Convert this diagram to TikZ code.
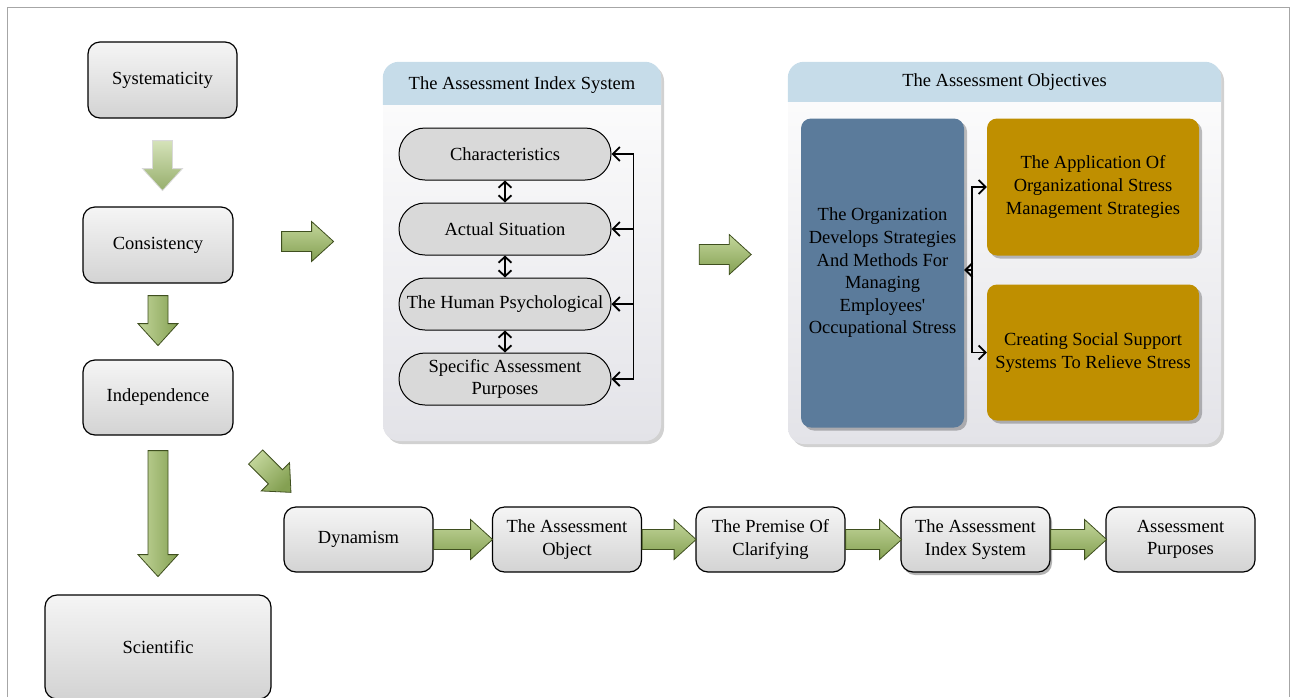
\documentclass[tikz,border=0pt]{standalone}
\usepackage{fontspec}
\setmainfont{Liberation Serif}
\usetikzlibrary{arrows.meta,calc,shadows}
\definecolor{ink}{HTML}{000000}
\definecolor{framecol}{HTML}{A6A6A6}
\definecolor{boxtop}{HTML}{F5F5F5}
\definecolor{boxbot}{HTML}{D3D3D3}
\definecolor{pillcol}{HTML}{D9D9D9}
\definecolor{headcol}{HTML}{C6DCE9}
\definecolor{paneltop}{HTML}{FEFEFE}
\definecolor{panelbot}{HTML}{E3E3E8}
\definecolor{steel}{HTML}{5B7B9B}
\definecolor{gold}{HTML}{BF8F00}
\definecolor{gLight}{HTML}{C3D69B}
\definecolor{gDark}{HTML}{84A052}
\definecolor{gEdge}{HTML}{3F4F1F}
\tikzset{pics/garrow/.style n args={2}{code={%
 \draw[#2] (0,-10) -- (#1-22,-10) -- (#1-22,-20) -- (#1,0) -- (#1-22,20) -- (#1-22,10) -- (0,10) -- cycle;}}}

\begin{document}
\begin{tikzpicture}[x=1pt,y=-1pt,>=Stealth,font=\fontsize{18.5}{22.6}\selectfont]
 \tikzstyle{box}=[rectangle,rounded corners=12pt,draw=ink,line width=1.2pt,top color=boxtop,bottom color=boxbot,minimum width=149pt,minimum height=76pt,align=center]
 \tikzstyle{rowbox}=[box,minimum height=65pt]
 \tikzstyle{pill}=[rectangle,rounded corners=26pt,draw=ink,line width=1pt,fill=pillcol,minimum width=212pt,minimum height=52pt,inner sep=2pt,align=center]
 \tikzstyle{panel}=[rectangle,rounded corners=16pt,top color=paneltop,bottom color=panelbot,drop shadow={shadow xshift=3pt,shadow yshift=-3pt,fill=black,opacity=0.18}]
 \tikzstyle{tile}=[rectangle,rounded corners=10pt,align=center,drop shadow={shadow xshift=3pt,shadow yshift=-3pt,fill=black,opacity=0.25}]
 \tikzstyle{link}=[draw=ink,line width=1.8pt,-{Straight Barb[length=7pt,width=14pt]}]
 \tikzstyle{dbl}=[draw=ink,line width=1.8pt,{Straight Barb[length=6pt,width=13pt]}-{Straight Barb[length=6pt,width=13pt]}]
 \tikzstyle{vgrad}=[draw=gEdge,line width=0.8pt,left color=gLight,right color=gDark]
 \tikzstyle{hgrad}=[draw=gEdge,line width=0.8pt,top color=gLight,bottom color=gDark]
 \tikzstyle{dgrad}=[draw=gEdge,line width=0.8pt,top color=gLight,bottom color=gDark,shading angle=45]
 \tikzstyle{fgrad}=[draw=gray!30,line width=0.8pt,top color=gLight!70!white,bottom color=gDark!85!white]
 \useasboundingbox (0,0) rectangle (1293,697);
 \draw[framecol,line width=1pt] (7,697) -- (7,7) -- (1289,7) -- (1289,697);
 % left column
 \node[box] (sys) at (162.5,80) {Systematicity};
 \node[box,minimum width=150pt] (cons) at (158,245) {Consistency};
 \node[box,minimum width=150pt,minimum height=75pt] (ind) at (158,397.5) {Independence};
 \node[box,minimum width=226pt,minimum height=104pt] (sci) at (158,647) {Scientific};
 \pic[rotate=-90] at ($(sys.south)+(0,22)$) {garrow={50}{fgrad}};
 \pic[rotate=-90] at ($(cons.south)+(0,12)$) {garrow={50}{vgrad}};
 \pic[rotate=-90] at ($(ind.south)+(0,15)$) {garrow={126}{vgrad}};
 \pic at ($(cons.east)+(48,-3.5)$) {garrow={52}{hgrad}};
 \pic[rotate=-45] at ($(ind.east)+(22,59.5)$) {garrow={50}{dgrad}};
 % index system panel
 \node[panel,minimum width=278pt,minimum height=379pt] (ipan) at (522,251.5) {};
 \fill[headcol] ($(ipan.north west)+(0,43)$) [rounded corners=16pt] -- (ipan.north west) -- (ipan.north east) [sharp corners] -- ($(ipan.north east)+(0,43)$) -- cycle;
 \node (ihead) at (522,85) {The Assessment Index System};
 \node[pill] (char) at (505,154) {Characteristics};
 \node[pill] (act) at (505,229) {Actual Situation};
 \node[pill] (hum) at (505,304) {The Human Psychological};
 \node[pill] (spec) at (505,379) {Specific Assessment\\Purposes};
 \draw[dbl] (char.south) -- (act.north);
 \draw[dbl] (act.south) -- (hum.north);
 \draw[dbl] (hum.south) -- (spec.north);
 \coordinate (fb) at ($(char.east)+(22,0)$);
 \draw[link] (fb) -- (char.east);
 \draw[link] (fb) |- (spec.east);
 \draw[link] (fb |- act.east) -- (act.east);
 \draw[link] (fb |- hum.east) -- (hum.east);
 \pic at ($(ipan.east)+(38,3)$) {garrow={52}{hgrad}};
 % objectives panel
 \node[panel,minimum width=433pt,minimum height=382pt] (opan) at (1004.5,253) {};
 \fill[headcol] ($(opan.north west)+(0,40)$) [rounded corners=16pt] -- (opan.north west) -- (opan.north east) [sharp corners] -- ($(opan.north east)+(0,40)$) -- cycle;
 \node (ohead) at (1004.5,82) {The Assessment Objectives};
 \node[tile,fill=steel,minimum width=163pt,minimum height=309pt] (org) at (882.5,273) {The Organization\\Develops Strategies\\And Methods For\\Managing\\Employees\textquotesingle\\Occupational Stress};
 \node[tile,fill=gold,minimum width=212pt,minimum height=137pt] (app) at (1093,187) {The Application Of\\Organizational Stress\\Management Strategies};
 \node[tile,fill=gold,minimum width=212pt,minimum height=136pt] (soc) at (1093,352.5) {Creating Social Support\\Systems To Relieve Stress};
 \coordinate (bj) at ($(org.east)+(8,-3)$);
 \draw[link] (bj) |- (app.west);
 \draw[link] (bj) |- (soc.west);
 \draw[link] (bj) -- (bj -| org.east);
 % bottom row
 \node[rowbox] (dyn) at (358.5,539.5) {Dynamism};
 \node[rowbox] (obj) at (567,539.5) {The Assessment\\Object};
 \node[rowbox] (prem) at (770.5,539.5) {The Premise Of\\Clarifying};
 \node[rowbox,drop shadow={shadow xshift=2pt,shadow yshift=-3pt,fill=black,opacity=0.3}] (idx) at (975.5,539.5) {The Assessment\\Index System};
 \node[rowbox] (purp) at (1180.5,539.5) {Assessment\\Purposes};
 \pic at (dyn.east) {garrow={59}{hgrad}};
 \pic at (obj.east) {garrow={54}{hgrad}};
 \pic at (prem.east) {garrow={56}{hgrad}};
 \pic at (idx.east) {garrow={56}{hgrad}};
\end{tikzpicture}
\end{document}
